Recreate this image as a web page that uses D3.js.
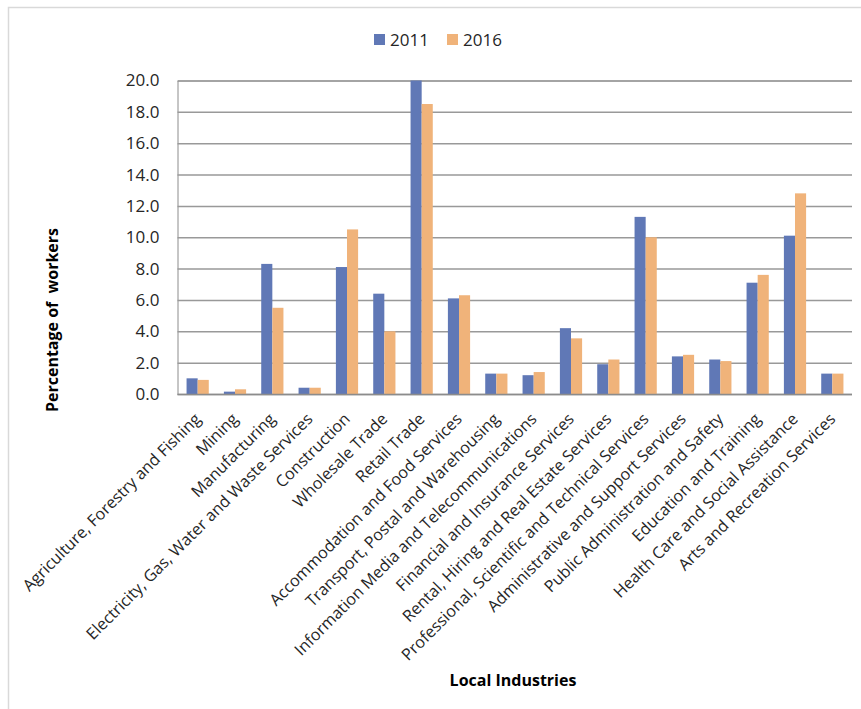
<!DOCTYPE html>
<html>
<head>
<meta charset="utf-8">
<script src="https://cdn.jsdelivr.net/npm/d3@7"></script>
<style>
  html, body { margin: 0; padding: 0; background: #fff; }
  svg { display: block; }
  text { font-family: "Open Sans", "DejaVu Sans", sans-serif; }
</style>
</head>
<body>
<svg id="chart" width="861" height="709"></svg>
<script>
const categories = [
  "Agriculture, Forestry and Fishing",
  "Mining",
  "Manufacturing",
  "Electricity, Gas, Water and Waste Services",
  "Construction",
  "Wholesale Trade",
  "Retail Trade",
  "Accommodation and Food Services",
  "Transport, Postal and Warehousing",
  "Information Media and Telecommunications",
  "Financial and Insurance Services",
  "Rental, Hiring and Real Estate Services",
  "Professional, Scientific and Technical Services",
  "Administrative and Support Services",
  "Public Administration and Safety",
  "Education and Training",
  "Health Care and Social Assistance",
  "Arts and Recreation Services"
];
const seriesNames = ["2011", "2016"];
const values2011 = [1.0, 0.15, 8.3, 0.4, 8.1, 6.4, 20.0, 6.1, 1.3, 1.2, 4.2, 1.9, 11.3, 2.4, 2.2, 7.1, 10.1, 1.3];
const values2016 = [0.9, 0.3, 5.5, 0.4, 10.5, 4.0, 18.5, 6.3, 1.3, 1.4, 3.55, 2.2, 10.0, 2.5, 2.1, 7.6, 12.8, 1.3];
const yTicks = [0, 2, 4, 6, 8, 10, 12, 14, 16, 18, 20];
const colors = ["#6078b6", "#f0b37a"];
const yTitle = "Percentage of\u00a0 workers";
const xTitle = "Local Industries";

const svg = d3.select("#chart");

// outer chart frame
svg.append("rect")
  .attr("x", 8.5).attr("y", 7.5)
  .attr("width", 870).attr("height", 720)
  .attr("fill", "#fff").attr("stroke", "#d9d9d9").attr("stroke-width", 1.5);

const plot = { left: 179, right: 851, top: 80.5, bottom: 394 };

const x = d3.scaleBand()
  .domain(categories)
  .range([plot.left, plot.right])
  .paddingInner(0.405)
  .paddingOuter(0.2025);

const xs = d3.scaleBand()
  .domain(seriesNames)
  .range([0, x.bandwidth()]);

const y = d3.scaleLinear()
  .domain([0, 20])
  .range([plot.bottom, plot.top]);

// gridlines + y axis labels
const yAxis = d3.axisLeft(y)
  .tickValues(yTicks)
  .tickFormat(d3.format(".1f"))
  .tickSize(-(plot.right + 1 - (plot.left - 1.5)))
  .tickPadding(18);

const gy = svg.append("g")
  .attr("transform", `translate(${plot.left - 1.5},0)`)
  .call(yAxis);
gy.select(".domain").attr("stroke", "#8c8c8c").attr("stroke-width", 1);
gy.selectAll(".tick line").attr("stroke", "#999999").attr("stroke-width", 1.5);
gy.selectAll(".tick text")
  .attr("fill", "#262626")
  .style("font-size", "17px")
  .style("font-family", "\"Open Sans\", sans-serif");

// bars
const data = categories.map((c, i) => ({ cat: c, vals: [values2011[i], values2016[i]] }));
const groups = svg.append("g").selectAll("g")
  .data(data).join("g")
  .attr("transform", d => `translate(${x(d.cat)},0)`);
groups.selectAll("rect")
  .data(d => d.vals.map((v, k) => ({ key: seriesNames[k], v, k })))
  .join("rect")
  .attr("x", d => xs(d.key))
  .attr("width", xs.bandwidth())
  .attr("y", d => y(d.v))
  .attr("height", d => y(0) - y(d.v))
  .attr("fill", d => colors[d.k]);

// bottom axis line
svg.append("line")
  .attr("x1", plot.left - 1.5).attr("x2", plot.right + 1)
  .attr("y1", plot.bottom + 0.5).attr("y2", plot.bottom + 0.5)
  .attr("stroke", "#8c8c8c").attr("stroke-width", 1.5);

// category labels rotated
const xAxis = d3.axisBottom(x).tickSize(0).tickPadding(0);
const gx = svg.append("g")
  .attr("transform", `translate(0,${plot.bottom})`)
  .call(xAxis);
gx.select(".domain").remove();
gx.selectAll(".tick text")
  .attr("fill", "#262626")
  .style("font-size", "16.2px")
  .style("font-family", "\"Open Sans\", sans-serif")
  .attr("text-anchor", "end")
  .attr("transform", "translate(0,22) rotate(-45)")
  .attr("x", 0).attr("y", 0).attr("dy", "0.35em");

// axis titles
svg.append("text")
  .attr("transform", "translate(58,320) rotate(-90)")
  .attr("text-anchor", "middle")
  .attr("fill", "#000")
  .style("font-size", "16px")
  .style("font-weight", "bold")
  .text(yTitle);

svg.append("text")
  .attr("x", 513).attr("y", 686)
  .attr("text-anchor", "middle")
  .attr("fill", "#000")
  .style("font-size", "16px")
  .style("font-weight", "bold")
  .text(xTitle);

// legend
const legend = svg.append("g");
const legendX = [374, 447];
seriesNames.forEach((name, i) => {
  legend.append("rect")
    .attr("x", legendX[i]).attr("y", 34)
    .attr("width", 11).attr("height", 11)
    .attr("fill", colors[i]);
  legend.append("text")
    .attr("x", legendX[i] + 16).attr("y", 46)
    .attr("fill", "#262626")
    .style("font-size", "17px")
    .text(name);
});
</script>
</body>
</html>
